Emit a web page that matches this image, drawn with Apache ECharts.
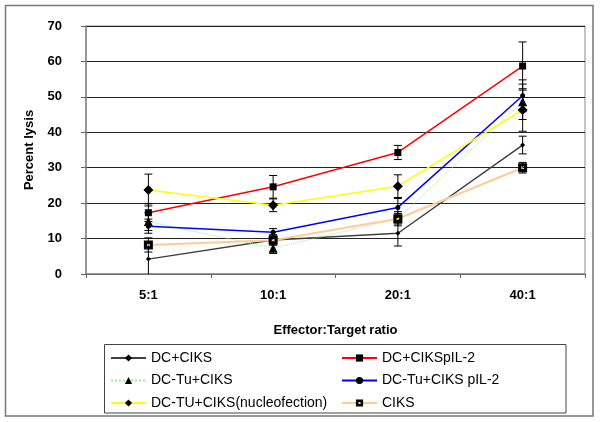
<!DOCTYPE html>
<html><head><meta charset="utf-8">
<script src="https://cdn.jsdelivr.net/npm/echarts@6/dist/echarts.min.js"></script>
<style>html,body{margin:0;padding:0;background:#fff}#c{width:600px;height:422px}</style>
</head><body><div id="c"></div>
<script>
const categories = ['5:1', '10:1', '20:1', '40:1'];
const seriesNames = ['DC+CIKS', 'DC+CIKSpIL-2', 'DC-Tu+CIKS', 'DC-Tu+CIKS pIL-2', 'DC-TU+CIKS(nucleofection)', 'CIKS'];
const dcCiks = [4.2, 9.6, 11.5, 36.4];
const dcCiksPil2 = [17.3, 24.6, 34.3, 58.7];
const dcTuCiks = [14.8, 7.3, 15.6, 48.6];
const dcTuCiksPil2 = [13.5, 11.8, 18.8, 50.3];
const dcTuCiksNucleo = [23.7, 19.4, 24.8, 46.3];
const ciks = [8.2, 9.5, 15.6, 30.0];
const errDcCiks = [4.5, 1.5, 3.6, 2.5];
const errDcCiksPil2 = [2.5, 3.2, 2.0, 6.8];
const errDcTuCiks = [2.5, 1.5, 2.0, 5.0];
const errDcTuCiksPil2 = [2.0, 1.0, 2.5, 4.5];
const errDcTuCiksNucleo = [4.5, 1.8, 3.2, 6.0];
const errCiks = [2.0, 1.0, 1.5, 1.5];
const yTicks = [0, 10, 20, 30, 40, 50, 60, 70];

const values = [dcCiks, dcCiksPil2, dcTuCiks, dcTuCiksPil2, dcTuCiksNucleo, ciks];
const errors = [errDcCiks, errDcCiksPil2, errDcTuCiks, errDcTuCiksPil2, errDcTuCiksNucleo, errCiks];
const styles = [
  {color: '#404040', width: 1.5, type: 'solid', symbol: 'diamond', size: 5},
  {color: '#ff0000', width: 1.5, type: 'solid', symbol: 'rect', size: 7},
  {color: '#99ee99', width: 1, type: 'dotted', symbol: 'triangle', size: 9},
  {color: '#0000ff', width: 1.5, type: 'solid', symbol: 'circle', size: 5},
  {color: '#ffff00', width: 1.5, type: 'solid', symbol: 'diamond', size: 10},
  {color: '#ffcc99', width: 2, type: 'solid', symbol: 'path://M0,0L10,0L10,10L0,10Z M3.5,3.5L3.5,6.5L6.5,6.5L6.5,3.5Z', size: 9}
];
const font = 'Liberation Sans, Arial, sans-serif';

const series = [];
values.forEach((vals, i) => {
  series.push({
    name: 'err' + i, type: 'custom', z: 2, silent: true, clip: true,
    data: vals.map((v, j) => [j, v, errors[i][j]]),
    renderItem: function (params, api) {
      const c = api.value(0), v = api.value(1), e = api.value(2);
      const top = api.coord([c, v + e]);
      const bot = api.coord([c, v - e]);
      const w = 4;
      const st = {stroke: '#000', lineWidth: 1};
      return {type: 'group', children: [
        {type: 'line', shape: {x1: top[0], y1: top[1], x2: bot[0], y2: bot[1]}, style: st},
        {type: 'line', shape: {x1: top[0] - w, y1: top[1], x2: top[0] + w, y2: top[1]}, style: st},
        {type: 'line', shape: {x1: bot[0] - w, y1: bot[1], x2: bot[0] + w, y2: bot[1]}, style: st}
      ]};
    }
  });
});
values.forEach((vals, i) => {
  const s = styles[i];
  series.push({
    name: seriesNames[i], type: 'line', z: 3 + i, data: vals,
    symbol: s.symbol, symbolSize: s.size, showSymbol: true,
    lineStyle: {color: s.color, width: s.width, type: s.type},
    itemStyle: {color: '#000'},
    emphasis: {disabled: true}
  });
});

const legendCommon = {
  orient: 'vertical', itemWidth: 35, itemHeight: 9, itemGap: 8.5,
  textStyle: {fontFamily: font, fontSize: 14, color: '#000', lineHeight: 14},
  selectedMode: false
};

const chart = echarts.init(document.getElementById('c'), null, {renderer: 'canvas'});
chart.setOption({
  animation: false,
  backgroundColor: '#fff',
  graphic: [
    {type: 'rect', shape: {x: 5.5, y: 5.5, width: 587.5, height: 410.5}, style: {fill: null, stroke: '#777', lineWidth: 1.5}, z: -1},
    {type: 'rect', shape: {x: 104.5, y: 344.5, width: 461.5, height: 68.5}, style: {fill: null, stroke: '#444', lineWidth: 1}, z: -1}
  ],
  grid: {left: 86, right: 15, top: 26, bottom: 148, show: true, borderColor: '#888', borderWidth: 1},
  legend: [
    Object.assign({}, legendCommon, {data: [seriesNames[0], seriesNames[2], seriesNames[4]], left: 105, top: 346}),
    Object.assign({}, legendCommon, {data: [seriesNames[1], seriesNames[3], seriesNames[5]], left: 336, top: 346})
  ],
  xAxis: {
    type: 'category', data: categories, boundaryGap: true,
    axisLine: {lineStyle: {color: '#888', width: 1.5}},
    axisTick: {show: true, length: 4, lineStyle: {color: '#666'}},
    axisLabel: {fontFamily: font, fontSize: 13, fontWeight: 'bold', color: '#000', margin: 15},
    name: 'Effector:Target ratio', nameLocation: 'middle', nameGap: 50,
    nameTextStyle: {fontFamily: font, fontSize: 13, fontWeight: 'bold', color: '#000'}
  },
  yAxis: {
    type: 'value', min: yTicks[0], max: yTicks[yTicks.length - 1], interval: 10,
    axisLine: {show: true, lineStyle: {color: '#888', width: 1.5}},
    axisTick: {show: true, length: 5, lineStyle: {color: '#666'}},
    axisLabel: {fontFamily: font, fontSize: 13, fontWeight: 'bold', color: '#000', margin: 24},
    splitLine: {show: true, lineStyle: {color: '#222', width: 1}},
    name: 'Percent lysis', nameLocation: 'middle', nameGap: 50, nameRotate: 90,
    nameTextStyle: {fontFamily: font, fontSize: 13, fontWeight: 'bold', color: '#000'}
  },
  series: series
});
</script></body></html>
